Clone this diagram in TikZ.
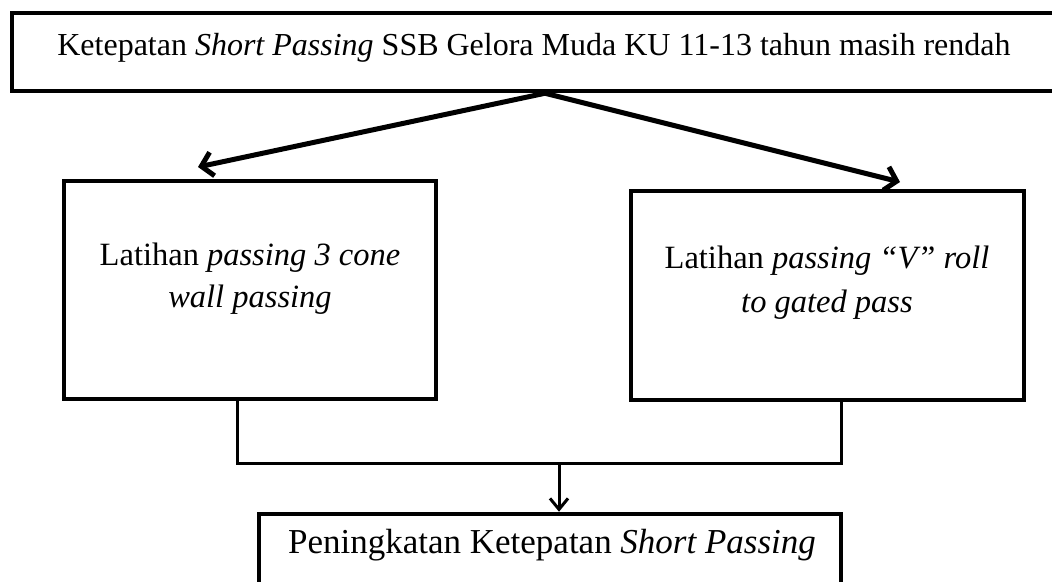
\documentclass[tikz,border=0pt]{standalone}
\usepackage{fontspec}
\setmainfont{Liberation Serif}
\usetikzlibrary{arrows.meta}
\tikzset{
  boxshape/.style={draw=black, line width=4.5pt, fill=none, inner sep=0pt},
  txt/.style={inner sep=0pt, align=center, font=\fontsize{32.5}{42}\selectfont},
  bigarrow/.style={line width=5pt, line cap=round, -{Straight Barb[length=11pt,width=24pt,line width=5pt]}},
  link/.style={line width=3pt, line join=miter},
  smallarrow/.style={line width=3pt, -{Straight Barb[length=11pt,width=18pt,line width=3pt]}}
}
\begin{document}
\begin{tikzpicture}[x=1pt,y=-1pt]
\useasboundingbox (0,0) rectangle (1052,581);
\clip (0,0) rectangle (1052,581);
\fill[white] (0,0) rectangle (1052,581);
% boxes
\node[boxshape, minimum width=1068pt, minimum height=78pt] (T) at (546,52) {};
\node[boxshape, minimum width=372pt, minimum height=218pt] (L) at (250,290) {};
\node[boxshape, minimum width=393pt, minimum height=209pt] (R) at (827.5,295.5) {};
\node[boxshape, minimum width=582pt, minimum height=90pt] (B) at (550,559) {};
% texts
\node[txt, anchor=base, font=\fontsize{32}{40}\selectfont] (Tt) at (534,55) {Ketepatan \textit{Short Passing} SSB Gelora Muda KU 11-13 tahun masih rendah};
\node[txt, anchor=base] (Lt) at (250,307) {Latihan \textit{passing 3 cone}\\\textit{wall passing}};
\node[txt, anchor=base, font=\fontsize{32.5}{44}\selectfont] (Rt) at (827,312) {Latihan \textit{passing ``V'' roll}\\\textit{to gated pass}};
\node[txt, anchor=base, font=\fontsize{35}{42}\selectfont] (Bt) at (552,553) {Peningkatan Ketepatan \textit{Short Passing}};
% arrows from top
\coordinate (top) at ([xshift=-1pt]T.south);
\coordinate (lt) at (198,167);
\coordinate (rt) at (900,182);
\draw[bigarrow] (top) -- (lt);
\draw[bigarrow] (top) -- (rt);
% join
\coordinate (jl) at (237,463);
\coordinate (jr) at (841,463);
\coordinate (jm) at (559,463);
\draw[link] ([xshift=-13pt]L.south) -- (jl) -- (jr) -- ([xshift=13.5pt]R.south);
\draw[smallarrow] (jm) -- ([xshift=9pt]B.north);
\end{tikzpicture}
\end{document}
